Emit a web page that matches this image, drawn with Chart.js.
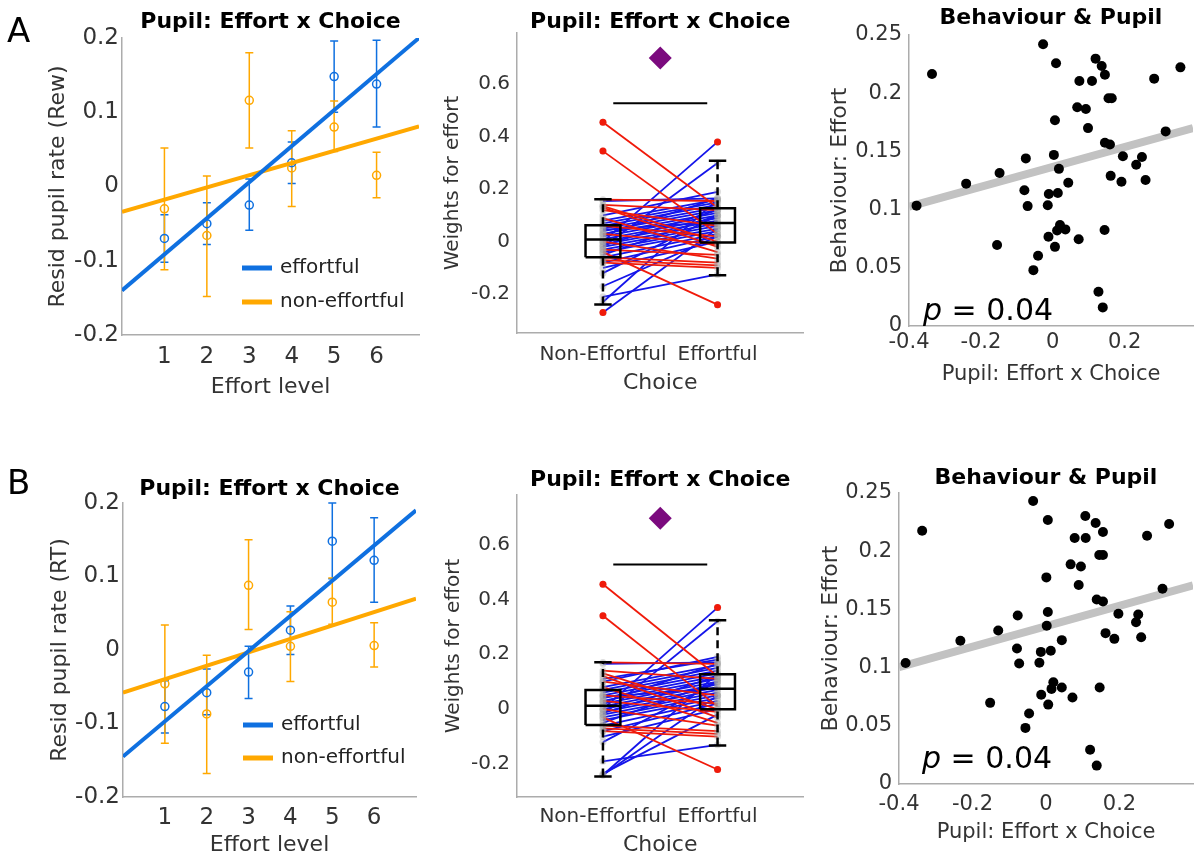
<!DOCTYPE html>
<html>
<head>
<meta charset="utf-8">
<script src="https://cdn.jsdelivr.net/npm/chart.js@4.4.1/dist/chart.umd.min.js"></script>
<style>
  html, body { margin: 0; padding: 0; background: #fff; }
  body { width: 1198px; height: 860px; position: relative; overflow: hidden; }
  canvas { position: absolute; }
</style>
</head>
<body>
<canvas id="aLeft"></canvas>
<canvas id="bLeft"></canvas>
<canvas id="aMid"></canvas>
<canvas id="bMid"></canvas>
<canvas id="aRight"></canvas>
<canvas id="bRight"></canvas>
<script>
// ---- data ----
const effortLevels = [1, 2, 3, 4, 5, 6];
const fitX = [0, 7];

// row A (Rew)
const A_effMean = [-0.07, -0.05, -0.025, 0.032, 0.148, 0.138];
const A_effLo = [-0.102, -0.078, -0.059, 0.004, 0.1, 0.08];
const A_effHi = [-0.038, -0.022, 0.01, 0.06, 0.196, 0.197];
const A_nonMean = [-0.03, -0.066, 0.116, 0.025, 0.08, 0.015];
const A_nonLo = [-0.112, -0.148, 0.052, -0.027, 0.047, -0.015];
const A_nonHi = [0.052, 0.014, 0.18, 0.075, 0.115, 0.046];
const A_effFit = [-0.14, 0.2];
const A_nonFit = [-0.034, 0.081];

// row B (RT)
const B_effMean = [-0.077, -0.058, -0.03, 0.027, 0.148, 0.122];
const B_effLo = [-0.113, -0.088, -0.066, -0.006, 0.097, 0.065];
const B_effHi = [-0.042, -0.026, 0.005, 0.06, 0.2, 0.18];
const B_nonMean = [-0.046, -0.087, 0.088, 0.005, 0.065, 0.006];
const B_nonLo = [-0.127, -0.168, 0.028, -0.043, 0.035, -0.023];
const B_nonHi = [0.034, -0.007, 0.15, 0.052, 0.098, 0.037];
const B_effFit = [-0.145, 0.19];
const B_nonFit = [-0.058, 0.07];

// paired weights (non-effortful -> effortful choice)
const choiceLabels = ['Non-Effortful', 'Effortful'];
const A_nonEff = [0.455, 0.345, 0.16, 0.14, 0.135, 0.13, 0.12, 0.09, 0.06, 0.03, -0.04, -0.07, -0.06, -0.08, -0.03, 0.0,
  -0.27, -0.23, -0.21, -0.17, -0.12, 0.0, -0.02, 0.1, 0.155, 0.08, 0.07, 0.06, 0.05, 0.04, 0.03, 0.02, 0.01, 0.0, -0.01,
  -0.02, -0.03, -0.04, -0.05, -0.06, -0.08, -0.1, -0.015, 0.025, 0.045];
const A_eff = [0.13, 0.03, 0.155, 0.12, 0.0, -0.02, 0.06, -0.04, 0.02, -0.01, -0.24, -0.09, -0.08, -0.1, -0.05, -0.065,
  0.05, 0.16, -0.125, 0.02, 0.1, 0.38, 0.3, 0.19, 0.165, 0.16, 0.15, 0.14, 0.13, 0.12, 0.11, 0.1, 0.09, 0.08, 0.07,
  0.06, 0.05, 0.04, 0.1, 0.03, 0.02, 0.0, 0.12, 0.165, 0.075];
const B_nonEff = [0.455, 0.34, 0.17, 0.14, 0.13, 0.12, 0.1, 0.08, 0.05, 0.03, -0.03, -0.07, -0.06, -0.08, 0.0,
  -0.24, -0.24, -0.235, -0.19, -0.12, 0.0, -0.02, 0.1, 0.165, 0.08, 0.07, 0.06, 0.05, 0.04, 0.03, 0.02, 0.01, 0.0,
  -0.01, -0.02, -0.03, -0.04, -0.05, -0.06, -0.08, -0.1, -0.015, 0.025, 0.045, 0.11];
const B_eff = [0.12, 0.01, 0.165, 0.11, 0.0, -0.03, 0.05, -0.05, 0.02, -0.01, -0.22, -0.09, -0.08, -0.1, -0.06,
  0.05, 0.13, -0.02, -0.13, 0.1, 0.37, 0.32, 0.19, 0.17, 0.16, 0.15, 0.14, 0.13, 0.12, 0.11, 0.1, 0.09, 0.08,
  0.07, 0.06, 0.05, 0.04, 0.1, 0.03, 0.02, 0.0, 0.12, 0.165, 0.075, 0.18];

// box plot stats [non-effortful, effortful]
const A_q1 = [-0.059, -0.003], A_med = [0.008, 0.071], A_q3 = [0.063, 0.127];
const A_wLo = [-0.239, -0.128], A_wHi = [0.162, 0.308];
const B_q1 = [-0.058, 0.0], B_med = [0.012, 0.074], B_q3 = [0.07, 0.127];
const B_wLo = [-0.245, -0.132], B_wHi = [0.171, 0.324];

// significance marker: bar x-extent, [bar y, diamond y]
const sigBarX = [1.09, 1.91];
const A_sig = [0.527, 0.7];
const B_sig = [0.527, 0.695];

// behaviour vs pupil scatter
const A_pupil = [-0.379, -0.336, -0.241, -0.148, -0.155, -0.075, -0.079, -0.07, -0.054, -0.041, -0.027, 0.003, 0.009,
  0.006, 0.017, -0.011, 0.014, -0.014, -0.012, 0.006, 0.012, 0.02, 0.035, 0.043, 0.072, 0.074, 0.068, 0.092, 0.098,
  0.109, 0.119, 0.136, 0.145, 0.155, 0.164, 0.145, 0.159, 0.161, 0.144, 0.127, 0.139, 0.195, 0.191, 0.232, 0.248,
  0.258, 0.282, 0.314, 0.355];
const A_behav = [0.1034, 0.2165, 0.1223, 0.1314, 0.0696, 0.144, 0.1166, 0.103, 0.048, 0.0604, 0.242, 0.147, 0.2257,
  0.1767, 0.135, 0.1134, 0.1143, 0.1037, 0.0767, 0.068, 0.082, 0.0868, 0.083, 0.123, 0.0745, 0.2105, 0.188, 0.1864,
  0.17, 0.2105, 0.2297, 0.2234, 0.2159, 0.1956, 0.1956, 0.1575, 0.156, 0.129, 0.0825, 0.0295, 0.016, 0.1458, 0.124,
  0.1386, 0.1452, 0.1254, 0.2125, 0.1672, 0.2222];
const B_pupil = [-0.382, -0.337, -0.233, -0.13, -0.152, -0.077, -0.079, -0.073, -0.056, -0.046, -0.035, 0.005, 0.005,
  0.001, 0.002, -0.014, 0.013, -0.018, -0.013, 0.006, 0.015, 0.02, 0.043, 0.043, 0.072, 0.078, 0.067, 0.095, 0.089,
  0.108, 0.107, 0.135, 0.155, 0.145, 0.155, 0.138, 0.155, 0.162, 0.146, 0.12, 0.138, 0.197, 0.186, 0.245, 0.251,
  0.259, 0.275, 0.317, 0.335];
const B_behav = [0.104, 0.2176, 0.123, 0.1319, 0.0697, 0.1448, 0.1164, 0.1035, 0.0482, 0.0605, 0.2431, 0.1477, 0.2268,
  0.1775, 0.1359, 0.1135, 0.1144, 0.1041, 0.0766, 0.0682, 0.0817, 0.0874, 0.0829, 0.1236, 0.0743, 0.2113, 0.1887,
  0.1869, 0.1709, 0.2113, 0.2302, 0.2242, 0.2165, 0.1967, 0.1967, 0.1585, 0.1568, 0.1296, 0.0829, 0.0295, 0.0158,
  0.1462, 0.1247, 0.139, 0.1456, 0.1261, 0.2133, 0.1677, 0.2233];
const A_fitX = [-0.4, 0.39], A_fitY = [0.1025, 0.17];
const B_fitX = [-0.4, 0.4], B_fitY = [0.1003, 0.1706];

// tick labels
const levelTicks = [-0.2, -0.1, 0, 0.1, 0.2];
const levelTickLabels = ['-0.2', '-0.1', '0', '0.1', '0.2'];
const weightTicks = [-0.2, 0, 0.2, 0.4, 0.6];
const weightTickLabels = ['-0.2', '0', '0.2', '0.4', '0.6'];
const pupilTicks = [-0.4, -0.2, 0, 0.2];
const pupilTickLabels = ['-0.4', '-0.2', '0', '0.2'];
const behavTicks = [0, 0.05, 0.1, 0.15, 0.2, 0.25];
const behavTickLabels = ['0', '0.05', '0.1', '0.15', '0.2', '0.25'];

// ---- styles ----
const FONT = '"DejaVu Sans", sans-serif';
const TXT = '#333333';
const AXIS = '#acacac';
const BLUE = '#0f70e0', ORANGE = '#ffa800';
const RED = '#f01a0a', DBLUE = '#1414ea';
const BOX_W = 0.152, CAP_W = 0.076;

const deco = {
  id: 'deco',
  beforeDatasetsDraw(chart) {
    const { ctx, scales: { x, y } } = chart;
    chart.data.datasets.forEach(ds => {
      if (!ds.errLo) return;
      ctx.save();
      ctx.strokeStyle = ds.borderColor;
      ctx.lineWidth = 1.5;
      ds.data.forEach((p, i) => {
        const px = x.getPixelForValue(p.x);
        const lo = y.getPixelForValue(ds.errLo[i]);
        const hi = y.getPixelForValue(ds.errHi[i]);
        ctx.beginPath();
        ctx.moveTo(px, lo); ctx.lineTo(px, hi);
        ctx.moveTo(px - 4, lo); ctx.lineTo(px + 4, lo);
        ctx.moveTo(px - 4, hi); ctx.lineTo(px + 4, hi);
        ctx.stroke();
      });
      ctx.restore();
    });
  },
  afterDraw(chart, args, o) {
    const { ctx, chartArea: a } = chart;
    ctx.save();
    if (o.title) {
      ctx.fillStyle = '#000';
      ctx.font = 'bold 22px ' + FONT;
      ctx.textAlign = 'center';
      ctx.textBaseline = 'middle';
      ctx.fillText(o.title, (a.left + a.right) / 2, o.titleY);
    }
    if (o.letter) {
      ctx.fillStyle = '#000';
      ctx.font = '34px ' + FONT;
      ctx.textAlign = 'left';
      ctx.textBaseline = 'middle';
      ctx.fillText(o.letter, 7, o.letterY);
    }
    if (o.legend) {
      ctx.font = '20px ' + FONT;
      ctx.textAlign = 'left';
      ctx.textBaseline = 'middle';
      o.legend.items.forEach((it, i) => {
        const yy = a.bottom - o.legend.ys[i];
        ctx.strokeStyle = it.color;
        ctx.lineWidth = 5;
        ctx.beginPath();
        ctx.moveTo(a.left + 120, yy);
        ctx.lineTo(a.left + 150, yy);
        ctx.stroke();
        ctx.fillStyle = '#222';
        ctx.fillText(it.label, a.left + 158, yy);
      });
    }
    if (o.pText) {
      ctx.fillStyle = '#000';
      ctx.textAlign = 'left';
      ctx.textBaseline = 'alphabetic';
      const px = a.left + o.pText.dx, py = a.bottom - o.pText.dy;
      ctx.font = 'italic 30px ' + FONT;
      ctx.fillText('p', px, py);
      const w = ctx.measureText('p').width;
      ctx.font = '30px ' + FONT;
      ctx.fillText(' = 0.04', px + w, py);
    }
    ctx.restore();
  }
};
Chart.register(deco);

function place(id, box) {
  const c = document.getElementById(id);
  c.width = box[2];
  c.height = box[3];
  c.style.left = box[0] + 'px';
  c.style.top = box[1] + 'px';
  return c;
}

function makeScale(o, isX, fixed) {
  return {
    type: 'linear', min: o.min, max: o.max,
    afterBuildTicks: s => { s.ticks = o.ticks.map(v => ({ value: v })); },
    afterFit: s => { if (isX) s.height = fixed; else s.width = fixed; },
    grid: { display: false, drawTicks: false },
    border: { display: true, color: AXIS, width: 1.5 },
    ticks: {
      autoSkip: false, maxRotation: 0, padding: o.pad, color: TXT,
      font: { family: FONT, size: o.size },
      callback: (v, i) => o.labels[i]
    },
    title: {
      display: true, text: o.title, color: TXT,
      font: { family: FONT, size: o.titleSize },
      padding: isX ? { top: 0, bottom: o.titlePad } : { top: o.titlePad, bottom: 0 }
    }
  };
}

function draw(id, box, area, xo, yo, datasets, decoOpts) {
  const c = place(id, box);
  return new Chart(c, {
    type: 'scatter',
    data: { datasets },
    options: {
      responsive: false,
      animation: false,
      events: [],
      layout: { padding: { left: 0, top: area[1] - box[1], right: box[0] + box[2] - area[2], bottom: 0 } },
      scales: {
        x: makeScale(xo, true, box[1] + box[3] - area[3]),
        y: makeScale(yo, false, area[0] - box[0])
      },
      plugins: { legend: { display: false }, tooltip: { enabled: false }, deco: decoOpts }
    }
  });
}

function effortSets(effMean, effLo, effHi, nonMean, nonLo, nonHi, effFit, nonFit) {
  const pts = m => effortLevels.map((x, i) => ({ x, y: m[i] }));
  const fit = f => fitX.map((x, i) => ({ x, y: f[i] }));
  const marker = (m, lo, hi, col, ord) => ({
    data: pts(m), errLo: lo, errHi: hi, borderColor: col,
    pointBorderColor: col, pointBackgroundColor: 'rgba(0,0,0,0)',
    pointRadius: 4, pointBorderWidth: 1.5, order: ord
  });
  return [
    { data: fit(effFit), showLine: true, borderColor: BLUE, borderWidth: 4, pointRadius: 0, order: 0 },
    { data: fit(nonFit), showLine: true, borderColor: ORANGE, borderWidth: 4, pointRadius: 0, order: 1 },
    marker(effMean, effLo, effHi, BLUE, 2),
    marker(nonMean, nonLo, nonHi, ORANGE, 3)
  ];
}

function pairSets(non, eff, q1, med, q3, wLo, wHi, sig) {
  const sets = [];
  non.forEach((v, i) => {
    sets.push({
      data: [{ x: 1, y: v }, { x: 2, y: eff[i] }], showLine: true,
      borderColor: eff[i] < v ? RED : DBLUE, borderWidth: 1.8, pointRadius: 0, order: 6
    });
  });
  sets.push({
    data: non.map(v => ({ x: 1, y: v })).concat(eff.map(v => ({ x: 2, y: v }))),
    pointRadius: 3.5, pointBackgroundColor: 'rgba(160,160,160,0.35)', pointBorderWidth: 0, order: 5
  });
  const out = [];
  non.forEach(v => { if (v > wHi[0] || v < wLo[0]) out.push({ x: 1, y: v }); });
  eff.forEach(v => { if (v > wHi[1] || v < wLo[1]) out.push({ x: 2, y: v }); });
  sets.push({ data: out, pointRadius: 3.5, pointBackgroundColor: RED, pointBorderWidth: 0, order: 2 });
  const line = (pts, dash) => sets.push({
    data: pts, showLine: true, borderColor: '#000', borderWidth: 2.5,
    borderDash: dash || [], pointRadius: 0, order: 1
  });
  [1, 2].forEach((c, k) => {
    line([{ x: c - BOX_W, y: q1[k] }, { x: c + BOX_W, y: q1[k] }, { x: c + BOX_W, y: q3[k] },
          { x: c - BOX_W, y: q3[k] }, { x: c - BOX_W, y: q1[k] }]);
    line([{ x: c - BOX_W, y: med[k] }, { x: c + BOX_W, y: med[k] }]);
    line([{ x: c, y: q3[k] }, { x: c, y: wHi[k] }], [8, 5]);
    line([{ x: c, y: wLo[k] }, { x: c, y: q1[k] }], [8, 5]);
    line([{ x: c - CAP_W, y: wHi[k] }, { x: c + CAP_W, y: wHi[k] }]);
    line([{ x: c - CAP_W, y: wLo[k] }, { x: c + CAP_W, y: wLo[k] }]);
  });
  sets.push({
    data: sigBarX.map(x => ({ x, y: sig[0] })), showLine: true,
    borderColor: '#000', borderWidth: 2, pointRadius: 0, order: 1
  });
  sets.push({
    data: [{ x: (sigBarX[0] + sigBarX[1]) / 2, y: sig[1] }], pointStyle: 'rectRot',
    pointRadius: 11.5, pointBackgroundColor: '#7b0a7e', pointBorderWidth: 0, order: 0
  });
  return sets;
}

function scatterSets(xs, ys, fx, fy) {
  return [
    { data: xs.map((x, i) => ({ x, y: ys[i] })), pointRadius: 5, pointBackgroundColor: '#000', pointBorderWidth: 0, order: 0 },
    { data: fx.map((x, i) => ({ x, y: fy[i] })), showLine: true, borderColor: '#c2c2c2', borderWidth: 8, pointRadius: 0, order: 1 }
  ];
}

const legendItems = [{ label: 'effortful', color: BLUE }, { label: 'non-effortful', color: ORANGE }];

// ---- left: effort level ----
const levelX = (pad, titlePad) => ({ min: 0, max: 7, ticks: effortLevels, labels: effortLevels.map(String),
  pad, size: 23, title: 'Effort level', titleSize: 22, titlePad });
const levelY = (title, titlePad) => ({ min: -0.2, max: 0.2, ticks: levelTicks, labels: levelTickLabels,
  pad: 3, size: 23, title, titleSize: 22, titlePad });

draw('aLeft', [0, 0, 440, 430], [122, 38, 419, 335],
  levelX(8.2, 29.8), levelY('Resid pupil rate (Rew)', 44.8),
  effortSets(A_effMean, A_effLo, A_effHi, A_nonMean, A_nonLo, A_nonHi, A_effFit, A_nonFit),
  { title: 'Pupil: Effort x Choice', titleY: 22, letter: 'A', letterY: 33,
    legend: { items: legendItems, ys: [67, 33] } });

draw('bLeft', [0, 430, 440, 430], [123, 503, 416, 797],
  levelX(7.2, 1.8), levelY('Resid pupil rate (RT)', 46.8),
  effortSets(B_effMean, B_effLo, B_effHi, B_nonMean, B_nonLo, B_nonHi, B_effFit, B_nonFit),
  { title: 'Pupil: Effort x Choice', titleY: 59, letter: 'B', letterY: 55,
    legend: { items: legendItems, ys: [72, 39] } });

// ---- middle: paired weights ----
const choiceX = (pad, titlePad) => ({ min: 0.25, max: 2.75, ticks: [1, 2], labels: choiceLabels,
  pad, size: 20, title: 'Choice', titleSize: 22, titlePad });
const weightY = (min, max, titlePad) => ({ min, max, ticks: weightTicks, labels: weightTickLabels,
  pad: 7, size: 20, title: 'Weights for effort', titleSize: 20, titlePad });

draw('aMid', [440, 0, 375, 430], [517, 33, 813, 333],
  choiceX(10, 33.8), weightY(-0.348, 0.795, 1),
  pairSets(A_nonEff, A_eff, A_q1, A_med, A_q3, A_wLo, A_wHi, A_sig),
  { title: 'Pupil: Effort x Choice', titleY: 22 });

draw('bMid', [440, 430, 375, 430], [517, 495, 813, 797],
  choiceX(8, 1.8), weightY(-0.32, 0.78, 2),
  pairSets(B_nonEff, B_eff, B_q1, B_med, B_q3, B_wLo, B_wHi, B_sig),
  { title: 'Pupil: Effort x Choice', titleY: 50 });

// ---- right: behaviour vs pupil ----
const pupilX = (max, pad, titlePad) => ({ min: -0.4, max, ticks: pupilTicks, labels: pupilTickLabels,
  pad, size: 21, title: 'Pupil: Effort x Choice', titleSize: 21, titlePad });
const behavY = titlePad => ({ min: 0, max: 0.25, ticks: behavTicks, labels: behavTickLabels,
  pad: 7, size: 21, title: 'Behaviour: Effort', titleSize: 22, titlePad });

draw('aRight', [815, 0, 383, 430], [909, 35, 1197, 326],
  pupilX(0.39, 4.4, 42.4), behavY(11.8),
  scatterSets(A_pupil, A_behav, A_fitX, A_fitY),
  { title: 'Behaviour & Pupil', titleY: 18, pText: { dx: 14, dy: 6 } });

draw('bRight', [815, 430, 383, 430], [899, 493, 1193, 784],
  pupilX(0.4, 8.4, 14.4), behavY(2.8),
  scatterSets(B_pupil, B_behav, B_fitX, B_fitY),
  { title: 'Behaviour & Pupil', titleY: 48, pText: { dx: 23, dy: 16 } });
</script>
</body>
</html>
